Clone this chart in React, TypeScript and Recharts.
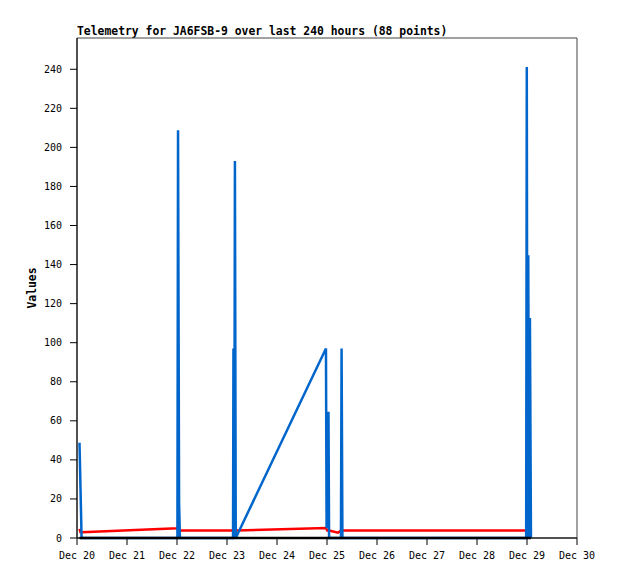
import { LineChart, Line, XAxis, YAxis, ReferenceArea } from 'recharts';

// hours since Dec 20 00:00
const hours = [1.2, 1.7, 2.2, 48.2, 48.5, 49.0, 49.4, 74.9, 75.1, 75.5, 75.8, 76.2, 119.5, 119.8, 120.1, 120.3, 120.7, 121.0, 125.3, 126.7, 127.0, 127.4, 215.6, 215.9, 216.2, 216.6, 217.0, 217.4, 217.9];
const blueVals = [48.8, 24.5, 0, 0, 208.8, 18, 0, 0, 97, 0, 193, 0, 97, 5, 53.6, 10.9, 64.6, 0, 0, 0, 97, 0, 0, 241.2, 0, 144.8, 0, 112.7, 0];
const redVals = [4.7, 2.9, 2.9, 5.0, 5.1, 5.0, 3.9, 3.8, 3.8, 3.8, 3.8, 3.8, 5.1, 4.5, 3.8, 3.8, 3.8, 3.8, 2.7, 3.8, 3.8, 3.8, 3.8, 3.8, 3.8, 3.8, 3.8, 3.8, 3.8];
const blackVals = [0, 0, 0, 0, 0, 0, 0, 0, 0, 0, 0, 0, 0, 0, 0, 0, 0, 0, 0, 0, 0, 0, 0, 0, 0, 0, 0, 0, 0];

const dayLabels = ['Dec 20', 'Dec 21', 'Dec 22', 'Dec 23', 'Dec 24', 'Dec 25', 'Dec 26', 'Dec 27', 'Dec 28', 'Dec 29', 'Dec 30'];
const dayTicks = [0, 24, 48, 72, 96, 120, 144, 168, 192, 216, 240];
const valueTicks = [0, 20, 40, 60, 80, 100, 120, 140, 160, 180, 200, 220, 240];

const data = hours.map((h, i) => ({ h, blue: blueVals[i], red: redVals[i], black: blackVals[i] }));

const mono = '"DejaVu Sans Mono", "Liberation Mono", monospace';

export default function App() {
    return (
        <div style={{ position: 'absolute', left: 0, top: 0, width: 618, height: 579, background: '#fff' }}>
            <div
                style={{
                    position: 'absolute',
                    left: 77,
                    top: 24,
                    fontFamily: mono,
                    fontWeight: 'bold',
                    fontSize: 11.4,
                    lineHeight: '14px',
                    color: '#000',
                    whiteSpace: 'nowrap',
                }}
            >
                Telemetry for JA6FSB-9 over last 240 hours (88 points)
            </div>
            <LineChart width={618} height={579} data={data} margin={{ top: 38, right: 41, left: 0, bottom: 0 }}>
                <ReferenceArea x1={0} x2={240} y1={0} y2={256} fill="none" stroke="#444" strokeWidth={1} />
                <XAxis
                    dataKey="h"
                    type="number"
                    domain={[0, 240]}
                    ticks={dayTicks}
                    tickFormatter={(v: number) => dayLabels[Math.round(v / 24)]}
                    height={41}
                    stroke="#000"
                    tickSize={7}
                    tickMargin={7}
                    tick={{ fill: '#000', fontSize: 10, fontFamily: mono }}
                    interval={0}
                />
                <YAxis
                    type="number"
                    domain={[0, 256]}
                    ticks={valueTicks}
                    width={77}
                    stroke="#000"
                    tickSize={7}
                    tickMargin={8}
                    tick={{ fill: '#000', fontSize: 10, fontFamily: mono }}
                    interval={0}
                    label={{
                        content: (props: any) => {
                            const vb = props.viewBox || { x: 0, y: 38, width: 77, height: 500 };
                            const cx = vb.x + 32;
                            const cy = vb.y + vb.height / 2;
                            return (
                                <text
                                    x={cx}
                                    y={cy}
                                    transform={`rotate(-90, ${cx}, ${cy})`}
                                    textAnchor="middle"
                                    dominantBaseline="central"
                                    fontFamily={mono}
                                    fontWeight="bold"
                                    fontSize={11.4}
                                    fill="#000"
                                >
                                    Values
                                </text>
                            );
                        },
                    }}
                />
                <Line dataKey="red" type="linear" stroke="#ff0000" strokeWidth={2.5} dot={false} isAnimationActive={false} />
                <Line dataKey="blue" type="linear" stroke="#0066cc" strokeWidth={2.5} dot={false} isAnimationActive={false} />
                <Line dataKey="black" type="linear" stroke="#000000" strokeWidth={2.5} dot={false} isAnimationActive={false} />
            </LineChart>
        </div>
    );
}
